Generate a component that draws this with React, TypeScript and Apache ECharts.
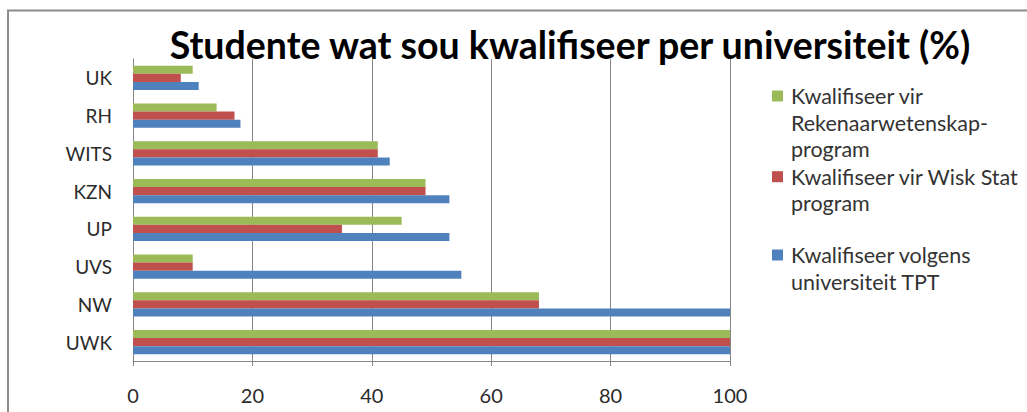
import React, { useEffect, useRef } from "react";
import * as echarts from "echarts";

// Categories from bottom to top (ECharts category y-axis starts at the bottom)
const categories = ["UWK", "NW", "UVS", "UP", "KZN", "WITS", "RH", "UK"];
const tptValues = [100, 100, 55, 53, 53, 43, 18, 11];
const wiskStatValues = [100, 68, 10, 35, 49, 41, 17, 8];
const rekenaarValues = [100, 68, 10, 45, 49, 41, 14, 10];
const xTickMin = 0;
const xTickMax = 100;
const xTickStep = 20;

// Series in drawing order (first is drawn on top within each group)
const seriesNames = [
  "Kwalifiseer vir Rekenaarwetenskap-program",
  "Kwalifiseer vir Wisk Stat program",
  "Kwalifiseer volgens universiteit TPT",
];
// Legend text as wrapped in the reference (top to bottom)
const legendEntries = [
  { series: 0, lines: ["Kwalifiseer vir", "Rekenaarwetenskap-", "program"] },
  { series: 1, lines: ["Kwalifiseer vir Wisk Stat", "program"] },
  { series: 2, lines: ["Kwalifiseer volgens", "universiteit TPT"] },
];
const titleText = "Studente wat sou kwalifiseer per universiteit (%)";

const colors = ["#9BBB59", "#C0504D", "#4F81BD"];
const legendCenters = [96, 176.7, 255];
const FONT = "Lato, 'Open Sans', sans-serif";

export default function App() {
  const ref = useRef<HTMLDivElement>(null);
  useEffect(() => {
    if (!ref.current) return;
    const chart = echarts.init(ref.current, undefined, { renderer: "svg" });
    const lineH = 26.5;
    const legendGraphics: any[] = [];
    legendEntries.forEach((e, i) => {
      const cy = legendCenters[i];
      legendGraphics.push({
        type: "rect",
        shape: { x: 772, y: cy - 5.5, width: 11, height: 11 },
        style: { fill: colors[e.series] },
        silent: true,
      });
      legendGraphics.push({
        type: "text",
        x: 791,
        y: cy - lineH / 2,
        style: {
          text: e.lines.join("\n"),
          fill: "#333333",
          font: `21.5px ${FONT}`,
          lineHeight: lineH,
          verticalAlign: "top",
          align: "left",
        },
        silent: true,
      });
    });

    const datasets = [rekenaarValues, wiskStatValues, tptValues];
    chart.setOption({
      animation: false,
      backgroundColor: "#ffffff",
      title: {
        text: titleText,
        left: 565,
        top: 20,
        textAlign: "center",
        textStyle: {
          fontFamily: FONT,
          fontWeight: "bold",
          fontSize: 37.5,
          color: "#000000",
        },
      },
      grid: { left: 133, right: 297, top: 59, bottom: 51, containLabel: false },
      xAxis: {
        type: "value",
        min: xTickMin,
        max: xTickMax,
        interval: xTickStep,
        axisLine: { show: true, lineStyle: { color: "#868686", width: 1 } },
        axisTick: { show: true, length: 5, lineStyle: { color: "#868686" } },
        splitLine: { show: true, lineStyle: { color: "#868686", width: 1 } },
        axisLabel: {
          color: "#2b2b2b",
          fontFamily: FONT,
          fontSize: 20,
          margin: 24,
        },
      },
      yAxis: {
        type: "category",
        data: categories,
        axisLine: { show: true, lineStyle: { color: "#868686", width: 1 } },
        axisTick: { show: false },
        axisLabel: {
          color: "#2b2b2b",
          fontFamily: FONT,
          fontSize: 19,
          margin: 21,
        },
      },
      series: datasets.map((d, i) => ({
        name: seriesNames[i],
        type: "bar",
        data: d,
        itemStyle: { color: colors[i] },
        barGap: "0%",
        barCategoryGap: "36%",
      })),
      graphic: [
        {
          type: "rect",
          shape: { x: 8, y: 10.5, width: 1100, height: 500 },
          style: { fill: "none", stroke: "#8c8c8c", lineWidth: 2 },
          silent: true,
        },
        ...legendGraphics,
      ],
    });
    return () => chart.dispose();
  }, []);
  return (
    <div
      ref={ref}
      style={{ position: "fixed", left: 0, top: 0, width: 1027, height: 412 }}
    />
  );
}
